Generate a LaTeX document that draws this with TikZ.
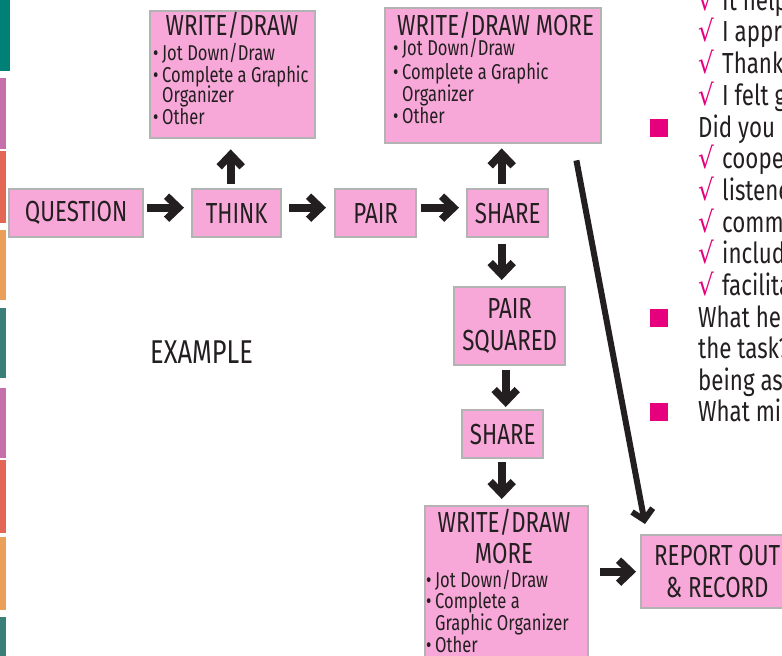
\documentclass[tikz,border=0pt]{standalone}
\usepackage{fontspec}
\setmainfont{Fira Sans}[FakeStretch=0.77]
\newfontfamily\symfont{DejaVu Sans}[FakeStretch=0.85]
\usetikzlibrary{arrows.meta}

\definecolor{ink}{HTML}{231F20}
\definecolor{boxpink}{HTML}{F7A8D8}
\definecolor{boxgray}{HTML}{B3B3B3}
\definecolor{magenta}{HTML}{E6007E}
\definecolor{tealA}{HTML}{008076}
\definecolor{tealB}{HTML}{3A8078}
\definecolor{plum}{HTML}{C570AA}
\definecolor{coral}{HTML}{E46655}
\definecolor{apricot}{HTML}{EBA05A}

\newcommand\bigtxt{\fontsize{29}{32}\selectfont}
\newcommand\smalltxt{\fontsize{21.5}{23}\selectfont}
\newcommand\bul{\makebox[9pt][l]{•}}
\newcommand\chk{{\symfont\color{magenta}√}}

\tikzset{
  box/.style={draw=boxgray, line width=2.4pt, fill=boxpink, inner sep=0pt,
    text=ink, font=\bigtxt, align=center, anchor=north west},
  lbl/.style={inner sep=0pt, text=ink},
  title/.style={lbl, font=\bigtxt, anchor=base, text depth=0pt},
  item/.style={lbl, font=\smalltxt, anchor=base west},
  note/.style={lbl, font=\bigtxt, anchor=base west},
  tick/.style={inner sep=0pt, font=\bigtxt, anchor=base west},
  sq/.style={fill=magenta, inner sep=0pt, minimum size=18pt, anchor=south west},
  bigarrow/.style={draw=ink, line width=8pt,
    -{Straight Barb[length=12pt,width=23pt,line width=7.5pt]}},
  longarrow/.style={draw=ink, line width=6pt,
    -{Straight Barb[length=10pt,width=21pt,line width=6pt]}},
}

\begin{document}
\begin{tikzpicture}[x=1pt,y=-1pt]
\useasboundingbox (0,0) rectangle (782,656);
\clip (0,0) rectangle (782,656);

% coloured tabs along the left edge
\fill[tealA]   (0,0)   rectangle (10,71);
\fill[plum]    (0,78)  rectangle (6,149);
\fill[coral]   (0,151) rectangle (6,223);
\fill[apricot] (0,230) rectangle (6,300);
\fill[tealB]   (0,308) rectangle (6,378);
\fill[plum]    (0,388) rectangle (6,458);
\fill[coral]   (0,460) rectangle (6,533);
\fill[apricot] (0,537) rectangle (6,610);
\fill[tealB]   (0,617) rectangle (6,656);

% main row
\node[box, minimum width=134pt, minimum height=48pt] (q)  at (8,188)   {QUESTION};
\node[box, minimum width=89pt,  minimum height=48pt] (t)  at (191,188) {THINK};
\node[box, minimum width=81pt,  minimum height=48pt] (p)  at (334,188) {PAIR};
\node[box, minimum width=81pt,  minimum height=48pt] (s1) at (466,188) {SHARE};

% write/draw boxes on top
\node[box, minimum width=165pt, minimum height=127pt] (wd)  at (149,10) {};
\node[title] (wd-t) at (232,35) {WRITE/DRAW};
\node[item] (wd-1) at (153,60)  {\bul Jot Down/Draw};
\node[item] (wd-2) at (153,82)  {\bul Complete a Graphic};
\node[item] (wd-3) at (162,102) {Organizer};
\node[item] (wd-4) at (153,124) {\bul Other};

\node[box, minimum width=216pt, minimum height=135pt] (wdm) at (384,7) {};
\node[title, anchor=base west] (wdm-t) at (397,35) {WRITE/DRAW MORE};
\node[item] (wdm-1) at (393,55)  {\bul Jot Down/Draw};
\node[item] (wdm-2) at (393,79)  {\bul Complete a Graphic};
\node[item] (wdm-3) at (402,101) {Organizer};
\node[item] (wdm-4) at (393,123) {\bul Other};

% column below SHARE
\node[box, minimum width=111pt, minimum height=78pt] (ps) at (453,286) {PAIR\\SQUARED};
\node[box, minimum width=81pt,  minimum height=48pt] (s2) at (461,409) {SHARE};

\node[box, minimum width=163pt, minimum height=160pt] (wdm2) at (424,505) {};
\node[title] (wdm2-t1) at (504,532) {WRITE/DRAW};
\node[title] (wdm2-t2) at (504,563) {MORE};
\node[item] (wdm2-1) at (426,587) {\bul Jot Down/Draw};
\node[item] (wdm2-2) at (426,608) {\bul Complete a};
\node[item] (wdm2-3) at (435,630) {Graphic Organizer};
\node[item] (wdm2-4) at (426,652) {\bul Other};

\node[box, minimum width=152pt, minimum height=73pt] (rep) at (640,534) {REPORT OUT\\\& RECORD};

\node[lbl, font=\fontsize{33}{36}\selectfont, anchor=base west] (ex) at (150,363) {EXAMPLE};

% connectors
\draw[bigarrow, shorten <=3pt, shorten >=7pt] ([yshift=5.5pt]q.east) -- ([yshift=5.5pt]t.west);
\draw[bigarrow, shorten <=7pt, shorten >=8pt] ([yshift=5.5pt]t.east) -- ([yshift=5.5pt]p.west);
\draw[bigarrow, shorten <=4pt, shorten >=7pt] ([yshift=5.5pt]p.east) -- ([yshift=5.5pt]s1.west);
\draw[bigarrow, shorten <=4pt, shorten >=10pt] ([xshift=-6pt]t.north) -- ([xshift=-6pt]t.north |- wd.south);
\draw[bigarrow, shorten <=4pt, shorten >=4pt] ([xshift=-6pt]s1.north) -- ([xshift=-6pt]s1.north |- wdm.south);
\draw[bigarrow, shorten <=6pt, shorten >=6pt] ([xshift=-6pt]s1.south) -- ([xshift=-6pt]s1.south |- ps.north);
\draw[bigarrow, shorten <=4pt, shorten >=2pt] ([xshift=-4pt]ps.south) -- ([xshift=-4pt]ps.south |- s2.north);
\draw[bigarrow, shorten <=3pt, shorten >=6pt] ([xshift=-1pt]s2.south) -- ([xshift=-1pt]s2.south |- wdm2.north);
\draw[bigarrow, shorten <=11pt, shorten >=4pt] (wdm2.east |- rep.west) -- (rep.west);
\draw[longarrow] ([xshift=-26pt,yshift=-16pt]wdm.south east) -- ([xshift=5pt,yshift=10pt]rep.north west);

% checklist on the right
\node[tick] (c1)  at (698,10)  {\chk}; \node[note] (n1)  at (722,10)  {It help};
\node[tick] (c2)  at (698,41)  {\chk}; \node[note] (n2)  at (722,41)  {I appr};
\node[tick] (c3)  at (698,73)  {\chk}; \node[note] (n3)  at (722,73)  {Thank};
\node[tick] (c4)  at (698,105) {\chk}; \node[note] (n4)  at (722,105) {I felt g};
\node[sq]   (b1)  at (650,137) {};     \node[note] (n5)  at (698,137) {Did you};
\node[tick] (c6)  at (698,168) {\chk}; \node[note] (n6)  at (722,168) {coope};
\node[tick] (c7)  at (698,200) {\chk}; \node[note] (n7)  at (722,200) {listene};
\node[tick] (c8)  at (698,232) {\chk}; \node[note] (n8)  at (722,232) {comm};
\node[tick] (c9)  at (698,263) {\chk}; \node[note] (n9)  at (722,263) {includ};
\node[tick] (c10) at (698,295) {\chk}; \node[note] (n10) at (722,295) {facilita};
\node[sq]   (b2)  at (650,327) {};     \node[note] (n11) at (698,327) {What he};
\node[note] (n12) at (698,358) {the task?};
\node[note] (n13) at (698,390) {being as};
\node[sq]   (b3)  at (650,421) {};     \node[note] (n14) at (698,421) {What mi};
\end{tikzpicture}
\end{document}
